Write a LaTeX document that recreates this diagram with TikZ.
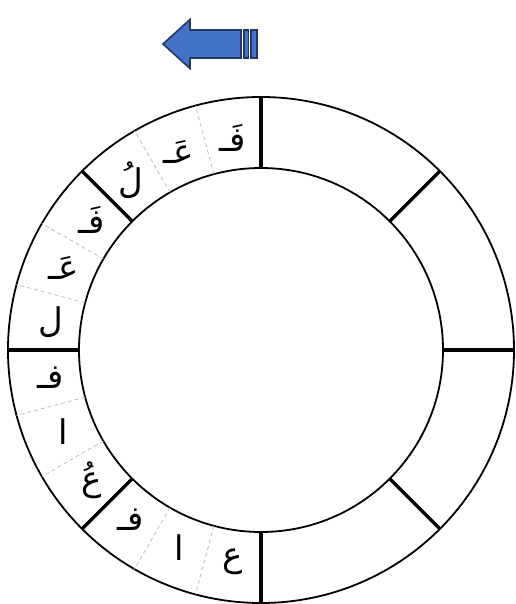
\documentclass[tikz,border=0pt]{standalone}
\usepackage{fontspec}
\usepackage{xcolor}
\usepackage{tikz}
\usetikzlibrary{calc}
\TeXXeTstate=1
\newfontfamily\arabicfont[Script=Arabic]{DejaVu Sans}
\definecolor{arrowfill}{HTML}{4472C4}
\definecolor{arrowedge}{HTML}{1F3864}
\tikzset{
  letter/.style={font=\arabicfont\fontsize{34}{40}\selectfont, inner sep=0pt},
  ring/.style={line width=1.8pt},
  divider/.style={line width=3.2pt},
  subline/.style={dash pattern=on 4pt off 3pt, gray!50, line width=0.8pt},
  arrowpart/.style={fill=arrowfill, draw=arrowedge, line width=1.6pt, line join=miter}
}

\begin{document}
\begin{tikzpicture}[x=1pt,y=1pt]
    \useasboundingbox (-261,-254) rectangle (254,350);
    \draw[ring] (0,0) circle (253);
    \draw[ring] (0,0) circle (182);
    \foreach \a in {0,45,...,315}
        \draw[divider] (\a:182) -- (\a:253);
    \foreach \a in {105,120,150,165,195,210,240,255}
        \draw[subline] (\a:182) -- (\a:253);
    \node[letter] (fa1) at (97.5:214) {\beginR فَـ\endR};
    \node[letter] (ain1) at (112.5:214) {\beginR عَـ\endR};
    \node[letter] (lam1) at (127.5:214) {\beginR لُ\endR};
    \node[letter] (fa2) at (142.5:214) {\beginR فَـ\endR};
    \node[letter] (ain2) at (157.5:214) {\beginR عَـ\endR};
    \node[letter] (lam2) at (172.5:212) {\beginR ل\endR};
    \node[letter] (fa3) at (187.5:212) {\beginR فـ\endR};
    \node[letter] (alif3) at (202.5:214) {\beginR ا\endR};
    \node[letter] (ain3) at (217.5:214) {\beginR عُ\endR};
    \node[letter] (fa4) at (232.5:214) {\beginR فـ\endR};
    \node[letter] (alif4) at (247.5:214) {\beginR ا\endR};
    \node[letter] (ain4) at (262.5:214) {\beginR ع\endR};
    \draw[arrowpart] (-98,306) -- (-71,330.5) -- (-71,320) -- (-20,320)
        -- (-20,292) -- (-71,292) -- (-71,281.5) -- cycle;
    \draw[arrowpart] (-17,320) rectangle (-12.5,292);
    \draw[arrowpart] (-10,320) rectangle (-4,292);
\end{tikzpicture}
\end{document}
